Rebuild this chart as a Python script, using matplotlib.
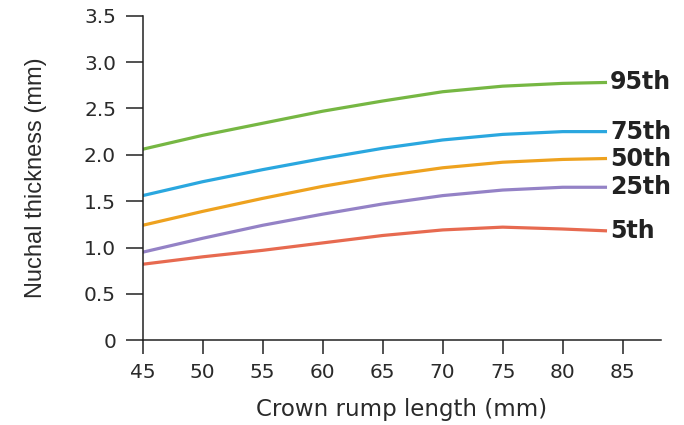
import numpy as np
import matplotlib
matplotlib.use('Agg')
import matplotlib.pyplot as plt

# Datos (longitud cráneo-caudal vs translucencia nucal)
crl = [45, 50, 55, 60, 65, 70, 75, 80, 83.7]
p95 = [2.06, 2.21, 2.34, 2.47, 2.58, 2.68, 2.74, 2.77, 2.78]
p75 = [1.56, 1.71, 1.84, 1.96, 2.07, 2.16, 2.22, 2.25, 2.25]
p50 = [1.24, 1.39, 1.53, 1.66, 1.77, 1.86, 1.92, 1.95, 1.96]
p25 = [0.95, 1.10, 1.24, 1.36, 1.47, 1.56, 1.62, 1.65, 1.65]
p5 = [0.82, 0.90, 0.97, 1.05, 1.13, 1.19, 1.22, 1.20, 1.18]

series = [p95, p75, p50, p25, p5]
names = ['95th', '75th', '50th', '25th', '5th']
colors = ['#76b743', '#2aa7df', '#eea21f', '#9482c6', '#e76a50']

xticks = [45, 50, 55, 60, 65, 70, 75, 80, 85]
yticks = [0, 0.5, 1.0, 1.5, 2.0, 2.5, 3.0, 3.5]
ylabels = ['0', '0.5', '1.0', '1.5', '2.0', '2.5', '3.0', '3.5']

fig = plt.figure(figsize=(6.84, 4.25), dpi=100)
ax = fig.add_axes([0.2086, 0.1993, 0.7578, 0.7638])

for vals, name, col in zip(series, names, colors):
    ax.plot(crl, vals, color=col, lw=2.3, solid_capstyle='butt')
    ax.text(crl[-1] + 0.25, vals[-1], name, color='#222222', fontsize=17,
            fontweight='bold', family='DejaVu Sans', ha='left', va='center')

ax.set_xlim(45, 88.2)
ax.set_ylim(0, 3.5)
ax.set_xticks(xticks)
ax.set_yticks(yticks)
ax.set_yticklabels(ylabels)

for s in ['top', 'right']:
    ax.spines[s].set_visible(False)
for s in ['left', 'bottom']:
    ax.spines[s].set_color('#222222')
    ax.spines[s].set_linewidth(1.1)

ax.tick_params(axis='y', length=12.2, width=1.1, pad=7, color='#222222',
               labelsize=14.5, labelcolor='#2a2a2a')
ax.tick_params(axis='x', length=10, width=1.1, pad=6, color='#222222',
               labelsize=14.5, labelcolor='#2a2a2a')
for lab in ax.get_xticklabels() + ax.get_yticklabels():
    lab.set_family('DejaVu Sans')

ax.set_xlabel('Crown rump length (mm)', fontsize=16.5, family='DejaVu Sans',
              color='#2a2a2a', labelpad=12)
ax.set_ylabel('Nuchal thickness (mm)', fontsize=17, family='Liberation Sans',
              color='#2a2a2a')
ax.yaxis.set_label_coords(-0.185, 0.5)

fig.savefig('out.png', dpi=100)
